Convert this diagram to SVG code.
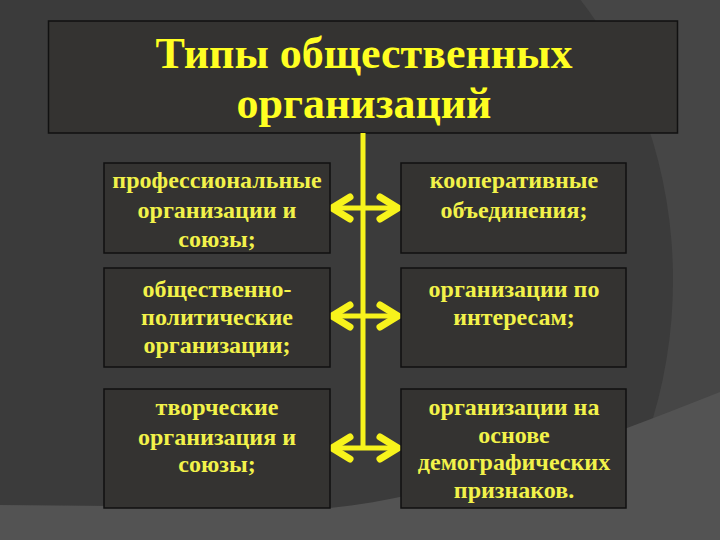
<svg xmlns="http://www.w3.org/2000/svg" width="720" height="540" viewBox="0 0 720 540">
<style>
.box{fill:#343331;stroke:#111;stroke-width:1.5}
.t{font-family:"Liberation Serif","Times New Roman",serif;font-weight:bold;font-size:24px;fill:#f2f24a;text-anchor:middle}
.title{font-family:"Liberation Serif","Times New Roman",serif;font-weight:bold;font-size:44px;fill:#ffff22;text-anchor:middle}
.ln{stroke:#f7f31c;stroke-width:5;fill:none;stroke-linecap:butt}
.ah{stroke:#f7f31c;stroke-width:7;fill:none;stroke-linecap:round;stroke-linejoin:miter}
</style>
<g id="background">
<rect x="0" y="0" width="720" height="540" fill="#464646"/>
<ellipse cx="330" cy="280" rx="343" ry="410" fill="#3b3b3b"/>
<rect x="0" y="0" width="330" height="540" fill="#3b3b3b"/>
<path d="M0,505 L330,508 C450,496 600,440 720,392 L720,540 L0,540 Z" fill="#535353"/>
</g>
<g id="title">
<rect class="box" x="48.5" y="21" width="629" height="112"/>
<text class="title" x="364" y="68">Типы общественных</text>
<text class="title" x="364" y="118">организаций</text>
</g>
<g id="connectors">
<line class="ln" x1="363" y1="133" x2="363" y2="448"/>
<line class="ln" x1="334" y1="208" x2="396" y2="208"/>
<line class="ln" x1="334" y1="316" x2="396" y2="316"/>
<line class="ln" x1="334" y1="448" x2="396" y2="448"/>
<polyline class="ah" points="350,197 332,208 350,219"/>
<polyline class="ah" points="380,197 398,208 380,219"/>
<polyline class="ah" points="350,305 332,316 350,327"/>
<polyline class="ah" points="380,305 398,316 380,327"/>
<polyline class="ah" points="350,437 332,448 350,459"/>
<polyline class="ah" points="380,437 398,448 380,459"/>
</g>
<g id="n1">
<rect class="box" x="104" y="163" width="226" height="90"/>
<text class="t" x="217" y="188">профессиональные</text>
<text class="t" x="217" y="218">организации и</text>
<text class="t" x="217" y="247">союзы;</text>
</g>
<g id="n2">
<rect class="box" x="401" y="163" width="225" height="90"/>
<text class="t" x="514" y="188">кооперативные</text>
<text class="t" x="514" y="218">объединения;</text>
</g>
<g id="n3">
<rect class="box" x="104" y="268" width="226" height="99"/>
<text class="t" x="217" y="297">общественно-</text>
<text class="t" x="217" y="325">политические</text>
<text class="t" x="217" y="353">организации;</text>
</g>
<g id="n4">
<rect class="box" x="401" y="268" width="225" height="99"/>
<text class="t" x="514" y="297">организации по</text>
<text class="t" x="514" y="325">интересам;</text>
</g>
<g id="n5">
<rect class="box" x="104" y="389" width="226" height="119"/>
<text class="t" x="217" y="415">творческие</text>
<text class="t" x="217" y="445">организация и</text>
<text class="t" x="217" y="472">союзы;</text>
</g>
<g id="n6">
<rect class="box" x="401" y="389" width="225" height="119"/>
<text class="t" x="514" y="415">организации на</text>
<text class="t" x="514" y="443">основе</text>
<text class="t" x="514" y="470">демографических</text>
<text class="t" x="514" y="498">признаков.</text>
</g>
</svg>
